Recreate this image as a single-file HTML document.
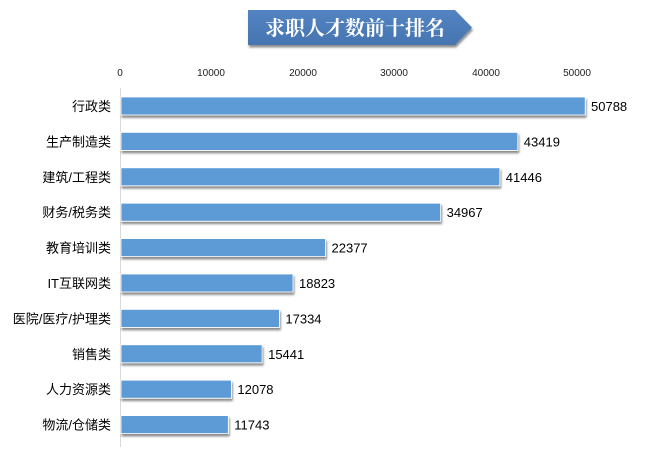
<!DOCTYPE html>
<html><head><meta charset="utf-8"><style>
body{margin:0;background:#fff;width:650px;height:447px;overflow:hidden;font-family:"Liberation Sans","Noto Sans CJK SC",sans-serif;}
</style></head><body>
<svg width="650" height="447" xmlns="http://www.w3.org/2000/svg">
<defs>
<filter id="sh" x="-5%" y="-20%" width="110%" height="160%"><feDropShadow dx="1" dy="2.5" stdDeviation="1" flood-color="#000" flood-opacity="0.45"/></filter>
<linearGradient id="tg" x1="0" y1="0" x2="0" y2="1"><stop offset="0" stop-color="#5384c2"/><stop offset="1" stop-color="#4674b0"/></linearGradient>
</defs>
<polygon points="248,10 455,10 472,27.5 455,45 248,45" fill="url(#tg)" filter="url(#sh)"/>
<text x="355" y="35" text-anchor="middle" font-family="'Noto Serif CJK SC',serif" font-weight="bold" font-size="20" fill="#fff">求职人才数前十排名</text>
<g font-size="10" fill="#222" text-anchor="middle">
<text x="120" y="76">0</text><text x="211" y="76">10000</text><text x="303" y="76">20000</text><text x="394" y="76">30000</text><text x="486" y="76">40000</text><text x="577" y="76">50000</text>
</g>
<line x1="120.5" y1="88" x2="120.5" y2="447" stroke="#d9d9d9" stroke-width="1"/>
<g fill="#5b9bd5" stroke="#fff" stroke-width="0.8" filter="url(#sh)">
<rect x="121" y="97" width="464.2" height="18"/>
<rect x="121" y="132.4" width="396.8" height="18"/>
<rect x="121" y="167.8" width="378.8" height="18"/>
<rect x="121" y="203.2" width="319.6" height="18"/>
<rect x="121" y="238.6" width="204.5" height="18"/>
<rect x="121" y="274" width="172" height="18"/>
<rect x="121" y="309.4" width="158.4" height="18"/>
<rect x="121" y="344.8" width="141.1" height="18"/>
<rect x="121" y="380.2" width="110.4" height="18"/>
<rect x="121" y="415.6" width="107.3" height="18"/>
</g>
<g font-size="13" fill="#000" text-anchor="end">
<text x="111" y="111">行政类</text>
<text x="111" y="146.4">生产制造类</text>
<text x="111" y="181.8">建筑/工程类</text>
<text x="111" y="217.2">财务/税务类</text>
<text x="111" y="252.6">教育培训类</text>
<text x="111" y="288">IT互联网类</text>
<text x="111" y="323.4">医院/医疗/护理类</text>
<text x="111" y="358.8">销售类</text>
<text x="111" y="394.2">人力资源类</text>
<text x="111" y="429.6">物流/仓储类</text>
</g>
<g font-size="13" fill="#000">
<text x="591" y="111">50788</text>
<text x="523.8" y="146.4">43419</text>
<text x="505.8" y="181.8">41446</text>
<text x="446.6" y="217.2">34967</text>
<text x="331.5" y="252.6">22377</text>
<text x="299" y="288">18823</text>
<text x="285.4" y="323.4">17334</text>
<text x="268.1" y="358.8">15441</text>
<text x="237.4" y="394.2">12078</text>
<text x="234.3" y="429.6">11743</text>
</g>
</svg>
</body></html>
